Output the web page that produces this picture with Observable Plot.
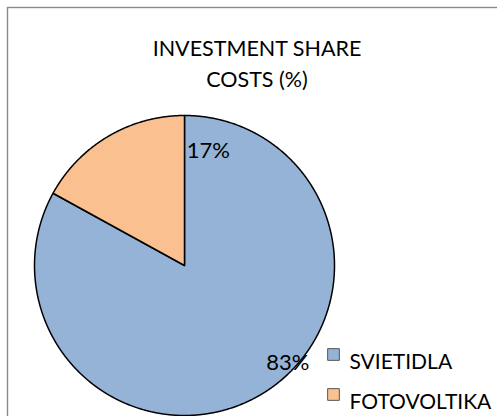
<!DOCTYPE html>
<html><head><meta charset="utf-8">
<script src="https://cdn.jsdelivr.net/npm/d3@7"></script>
<script src="https://cdn.jsdelivr.net/npm/@observablehq/plot@0.6"></script>
<style>body{margin:0;background:#fff}</style>
</head><body><div id="chart"></div>
<script>
const categories = ["SVIETIDLA", "FOTOVOLTIKA"];
const shares = [83, 17];
const labels = ["83%", "17%"];
const colors = ["#95B3D7", "#FAC090"];
const titleLines = ["INVESTMENT SHARE", "COSTS (%)"];

const arcs = d3.pie().sort(null).startAngle(0).endAngle(2 * Math.PI)(shares);
const slices = arcs.map((p, i) => {
  const pts = [{name: categories[i], x: 0, y: 0}];
  const n = Math.max(2, Math.ceil((p.endAngle - p.startAngle) / 0.005));
  for (let k = 0; k <= n; k++) {
    const a = p.startAngle + (p.endAngle - p.startAngle) * k / n;
    pts.push({name: categories[i], x: Math.sin(a), y: Math.cos(a)});
  }
  pts.push({name: categories[i], x: 0, y: 0});
  return pts;
});
const labelPos = arcs.map((p, i) => {
  const m = (p.startAngle + p.endAngle) / 2;
  return {label: labels[i], x: 0.75 * Math.sin(m), y: 0.75 * Math.cos(m)};
});
const labelOffsets = [[46, 1], [81, -18]];
const font = "Lato, 'Open Sans', sans-serif";

const marks = [
  Plot.frame({stroke: "#8a8a8a", strokeWidth: 1.4, insetLeft: 7, insetTop: 7, insetRight: -10, insetBottom: -10}),
  ...slices.map((s, i) => Plot.line(s, {x: "x", y: "y", fill: colors[i], stroke: "#000", strokeWidth: 1.5, strokeLinejoin: "round"})),
  ...labelPos.map((d, i) => Plot.text([d], {x: "x", y: "y", text: "label", dx: labelOffsets[i][0], dy: labelOffsets[i][1], fontSize: 22, fill: "#000"})),
  Plot.text([titleLines.join("\n")], {frameAnchor: "top", dx: 8, dy: 61, lineAnchor: "middle", lineHeight: 1.43, fontSize: 21.5, fill: "#000"}),
  ...categories.map((c, i) => Plot.dot([c], {frameAnchor: "top-left", dx: 333, dy: 354 + i * 40, symbol: "square", r: 6.6, fill: colors[i], stroke: "#555", strokeWidth: 1})),
  ...categories.map((c, i) => Plot.text([c], {frameAnchor: "top-left", dx: 349, dy: 354 + i * 40, textAnchor: "start", fontSize: 21, fill: "#000"}))
];

const chart = Plot.plot({
  width: 497, height: 416, margin: 0,
  style: {fontFamily: font, background: "#fff"},
  x: {domain: [-1, 1], range: [34, 334], axis: null},
  y: {domain: [-1, 1], range: [415, 115], axis: null},
  marks
});
document.getElementById("chart").appendChild(chart);
</script></body></html>
